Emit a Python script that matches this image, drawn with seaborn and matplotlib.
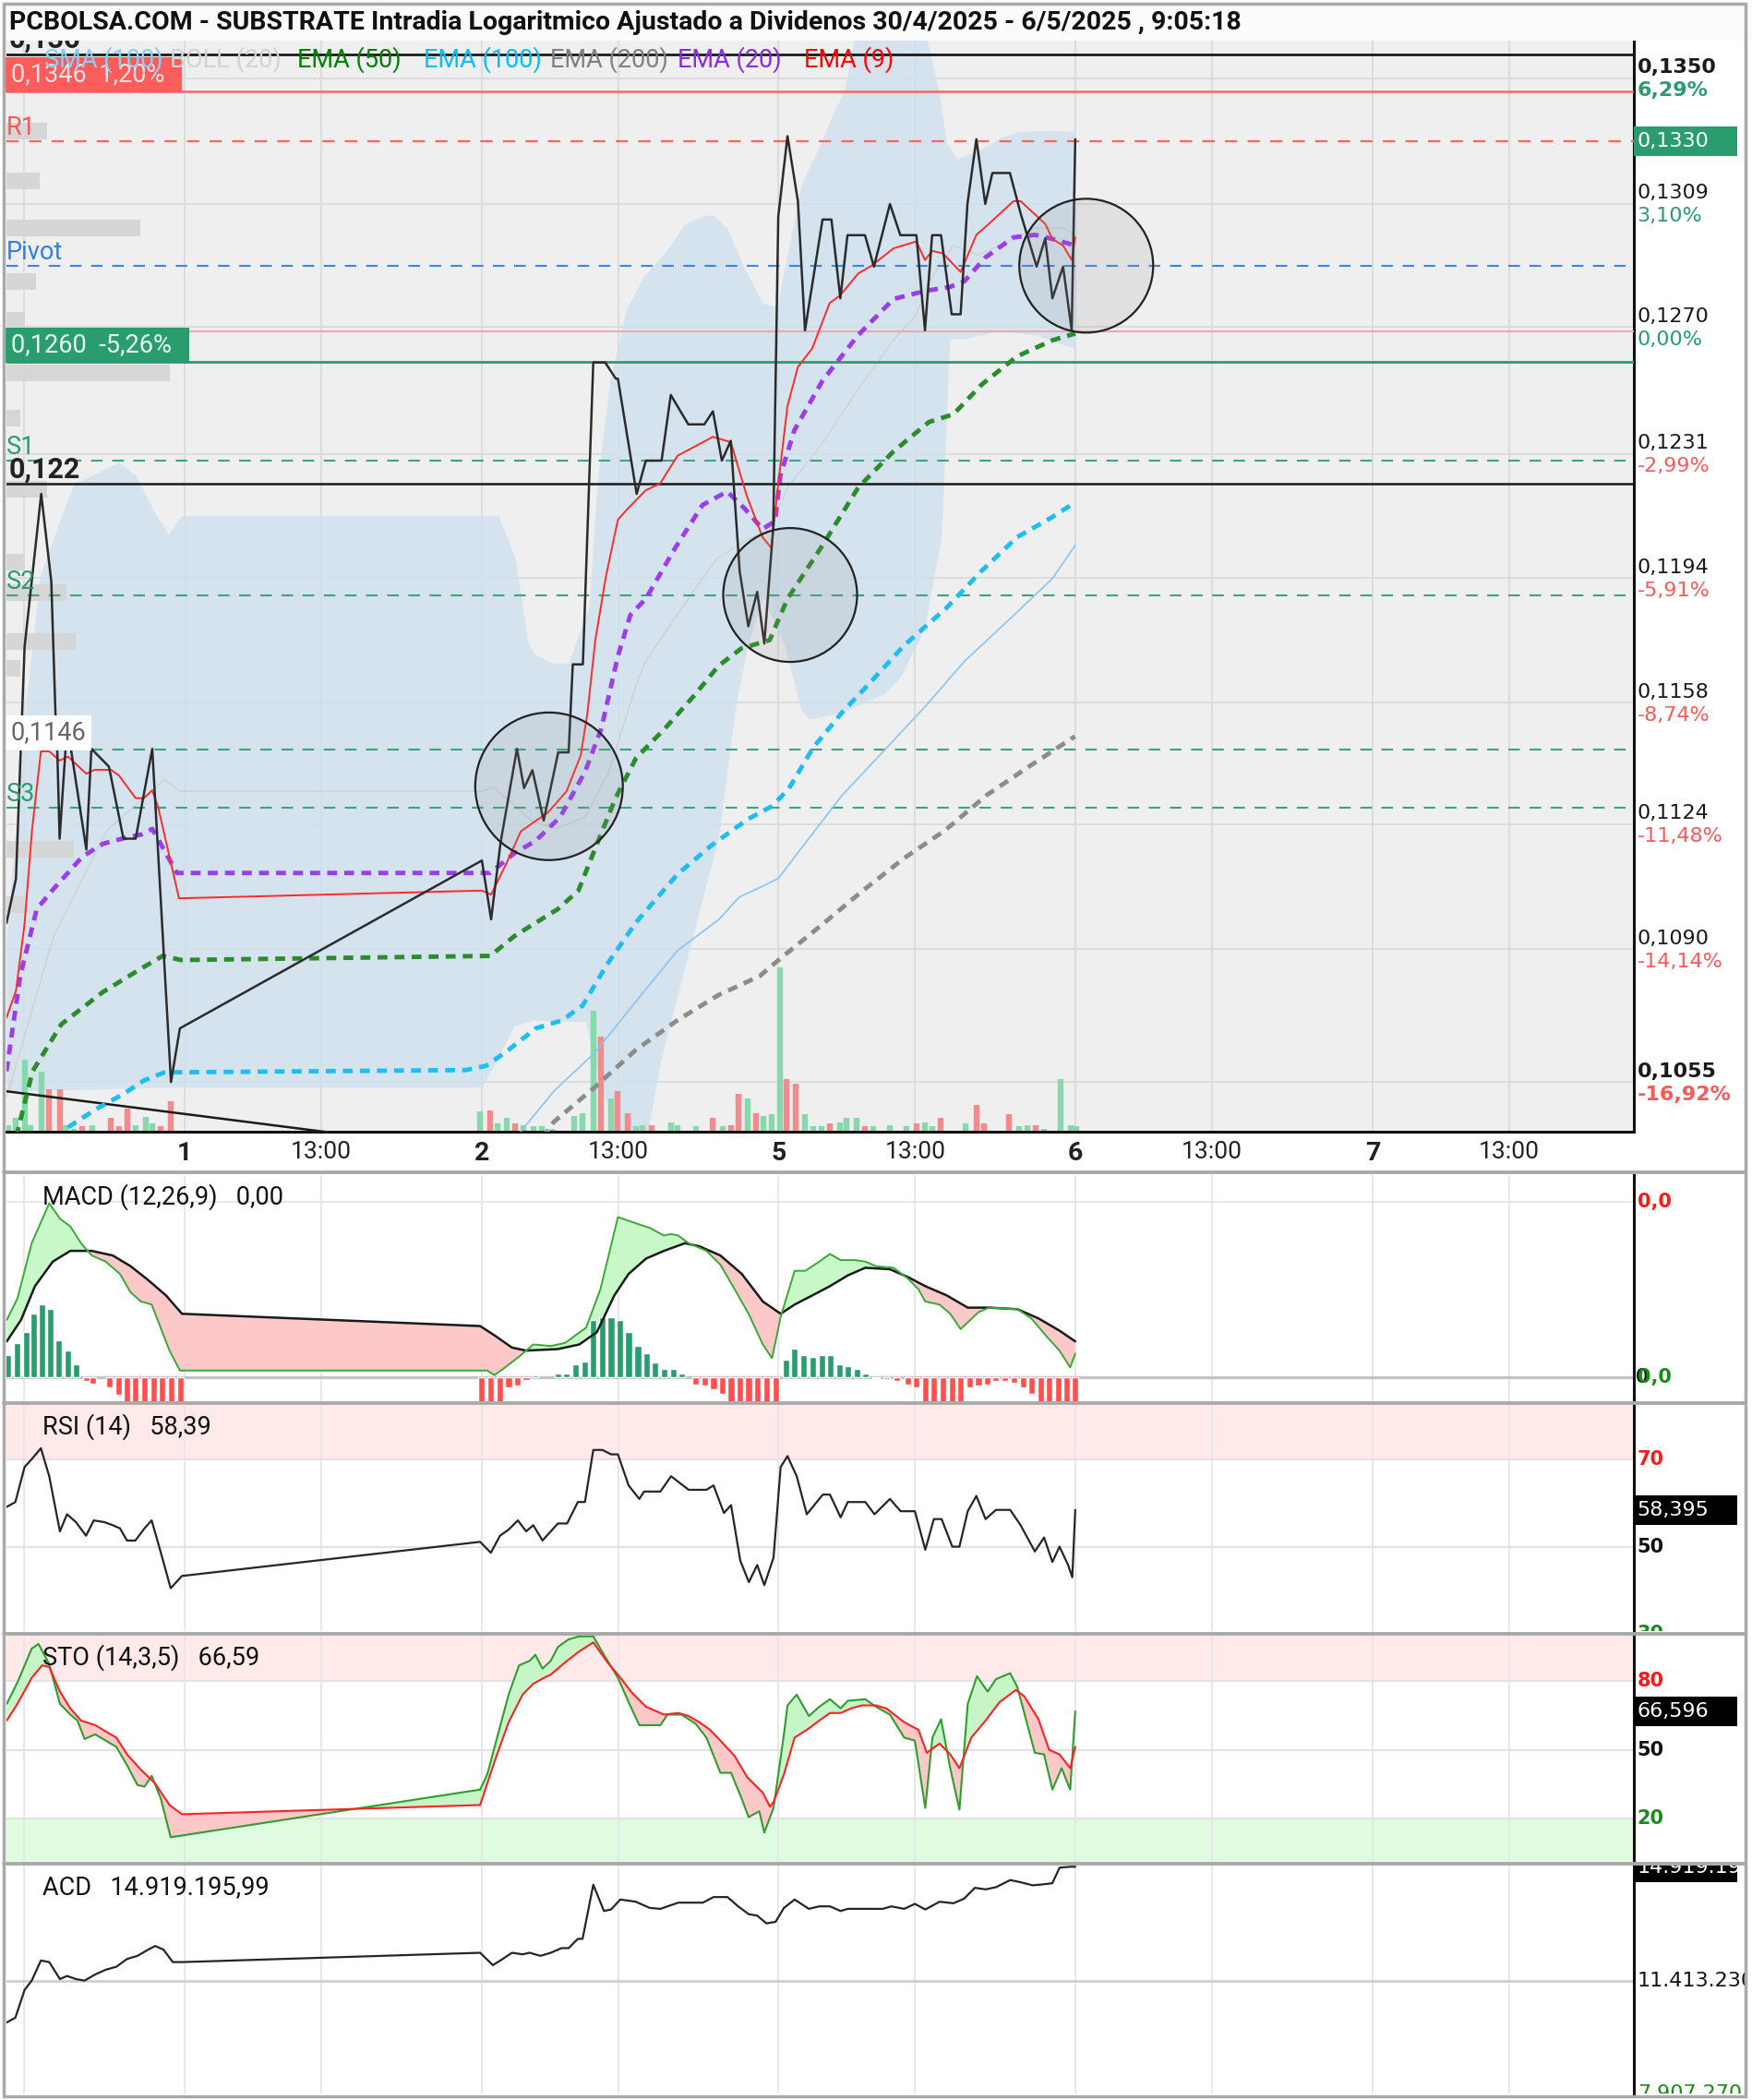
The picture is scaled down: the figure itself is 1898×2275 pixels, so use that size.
import numpy as np
import matplotlib
matplotlib.use("Agg")
import matplotlib.pyplot as plt
from matplotlib.collections import LineCollection
from matplotlib.lines import Line2D
from matplotlib.patches import Rectangle
from matplotlib.ticker import NullLocator
from matplotlib.transforms import offset_copy, blended_transform_factory
import seaborn as sns

# time axis: trading sessions (0 = 30/4, 1 = 1/5, 2 = 2/5, 3 = 5/5, 4 = 6/5, 5 = 7/5)
price_t = [0.400, 0.432, 0.461, 0.517, 0.551, 0.565, 0.571, 0.579, 0.599, 0.617, 0.669, 0.686, 0.745,
           0.794, 0.835, 0.891, 0.954, 0.984, 2.001, 2.032, 2.064, 2.119, 2.143, 2.171, 2.209, 2.258,
           2.293, 2.307, 2.341, 2.376, 2.416, 2.452, 2.459, 2.522, 2.553, 2.606, 2.637, 2.696, 2.750,
           2.779, 2.809, 2.839, 2.869, 2.898, 2.928, 2.952, 2.982, 2.999, 3.030, 3.065, 3.089, 3.148,
           3.178, 3.208, 3.232, 3.291, 3.321, 3.375, 3.410, 3.464, 3.493, 3.517, 3.547, 3.583, 3.613,
           3.636, 3.666, 3.696, 3.720, 3.779, 3.815, 3.869, 3.898, 3.922, 3.958, 3.987, 3.999]
price_v = [0.1097, 0.1109, 0.1174, 0.1219, 0.1193, 0.1155, 0.1145, 0.1120, 0.1145, 0.1145, 0.1117, 0.1145,
           0.1140, 0.1120, 0.1120, 0.1145, 0.1055, 0.1069, 0.1114, 0.1098, 0.1119, 0.1145, 0.1134, 0.1139,
           0.1125, 0.1144, 0.1144, 0.1169, 0.1169, 0.1259, 0.1259, 0.1254, 0.1254, 0.1219, 0.1229, 0.1229,
           0.1249, 0.1240, 0.1240, 0.1244, 0.1229, 0.1235, 0.1196, 0.1180, 0.1190, 0.1175, 0.1209, 0.1305,
           0.1331, 0.1310, 0.1269, 0.1304, 0.1304, 0.1279, 0.1299, 0.1299, 0.1289, 0.1309, 0.1299, 0.1299,
           0.1269, 0.1299, 0.1299, 0.1274, 0.1274, 0.1309, 0.1330, 0.1309, 0.1319, 0.1319, 0.1306, 0.1289,
           0.1298, 0.1279, 0.1289, 0.1269, 0.1330]

ema9_t = [0.400, 0.432, 0.461, 0.486, 0.516, 0.544, 0.579, 0.607, 0.669, 0.697, 0.752, 0.779, 0.835, 0.863,
          0.891, 0.912, 0.981, 2.001, 2.032, 2.085, 2.132, 2.182, 2.222, 2.286, 2.334, 2.356, 2.383, 2.418,
          2.459, 2.487, 2.553, 2.601, 2.660, 2.779, 2.839, 2.893, 2.946, 2.976, 2.999, 3.030, 3.065, 3.113,
          3.172, 3.208, 3.268, 3.315, 3.387, 3.464, 3.493, 3.517, 3.553, 3.613, 3.666, 3.708, 3.791, 3.815,
          3.898, 3.922, 3.958, 3.987, 3.999]
ema9_v = [0.10718, 0.10789, 0.10968, 0.11223, 0.11443, 0.11443, 0.11417, 0.11428, 0.11380, 0.11391, 0.11391,
          0.11375, 0.11312, 0.11312, 0.11334, 0.11283, 0.11037, 0.11058, 0.11047, 0.11135, 0.11220, 0.11249,
          0.11271, 0.11331, 0.11432, 0.11549, 0.11760, 0.11943, 0.12113, 0.12141, 0.12201, 0.12221, 0.12305,
          0.12362, 0.12346, 0.12184, 0.12061, 0.12029, 0.12221, 0.12456, 0.12576, 0.12633, 0.12775, 0.12800,
          0.12868, 0.12894, 0.12948, 0.12970, 0.12911, 0.12940, 0.12932, 0.12873, 0.12991, 0.13026, 0.13099,
          0.13099, 0.13026, 0.12978, 0.12957, 0.12911, 0.12983]

ema20_t = [0.400, 0.447, 0.502, 0.558, 0.655, 0.725, 0.794, 0.856, 0.891, 0.974, 2.029, 2.112, 2.182, 2.265,
           2.349, 2.403, 2.459, 2.501, 2.553, 2.649, 2.744, 2.827, 2.887, 2.946, 2.988, 3.006, 3.053, 3.148,
           3.268, 3.387, 3.493, 3.577, 3.625, 3.696, 3.791, 3.863, 3.922, 3.999]
ema20_v = [0.10578, 0.10831, 0.11008, 0.11062, 0.11150, 0.11186, 0.11201, 0.11212, 0.11227, 0.11106, 0.11106,
           0.11161, 0.11194, 0.11260, 0.11387, 0.11507, 0.11714, 0.11833, 0.11880, 0.12025, 0.12157, 0.12197,
           0.12145, 0.12085, 0.12109, 0.12245, 0.12382, 0.12534, 0.12675, 0.12788, 0.12813, 0.12826, 0.12843,
           0.12919, 0.12983, 0.12991, 0.12978, 0.12957]

ema50_t = [0.433, 0.488, 0.585, 0.725, 0.849, 0.926, 0.988, 2.029, 2.112, 2.257, 2.326, 2.382, 2.451, 2.520,
           2.617, 2.714, 2.798, 2.875, 2.970, 3.030, 3.148, 3.268, 3.387, 3.506, 3.589, 3.684, 3.803, 3.922,
           3.999]
ema50_v = [0.10409, 0.10578, 0.10701, 0.10786, 0.10846, 0.10882, 0.10871, 0.10882, 0.10936, 0.11008, 0.11058,
           0.11172, 0.11312, 0.11424, 0.11507, 0.11599, 0.11686, 0.11736, 0.11760, 0.11880, 0.12037, 0.12209,
           0.12318, 0.12407, 0.12431, 0.12522, 0.12609, 0.12659, 0.12680]

ema100_t = [0.607, 0.697, 0.794, 0.863, 0.932, 1.946, 2.015, 2.085, 2.182, 2.271, 2.340, 2.423, 2.520, 2.659,
            2.770, 2.895, 2.978, 3.034, 3.117, 3.214, 3.311, 3.422, 3.565, 3.684, 3.803, 3.922, 3.999]
ema100_v = [0.10433, 0.10478, 0.10519, 0.10554, 0.10575, 0.10581, 0.10592, 0.10630, 0.10690, 0.10711, 0.10750,
            0.10860, 0.10972, 0.11102, 0.11179, 0.11253, 0.11290, 0.11338, 0.11454, 0.11553, 0.11640, 0.11744,
            0.11853, 0.11962, 0.12061, 0.12121, 0.12165]

ema200_t = [2.205, 2.243, 2.382, 2.520, 2.659, 2.798, 2.936, 3.006, 3.145, 3.284, 3.422, 3.561, 3.700, 3.839, 3.998]
ema200_v = [0.10406, 0.10447, 0.10537, 0.10634, 0.10711, 0.10778, 0.10828, 0.10875, 0.10965, 0.11058, 0.11146,
            0.11223, 0.11320, 0.11398, 0.11485]

sma100_t = [2.114, 2.243, 2.382, 2.520, 2.659, 2.798, 2.867, 2.936, 2.999, 3.075, 3.214, 3.353, 3.492, 3.625,
            3.803, 3.922, 3.999]
sma100_v = [0.10406, 0.10526, 0.10627, 0.10761, 0.10896, 0.10979, 0.11040, 0.11066, 0.11091, 0.11172, 0.11320,
            0.11443, 0.11568, 0.11698, 0.11841, 0.11939, 0.12037]

boll_up_t = [0.400, 0.468, 0.513, 0.585, 0.628, 0.779, 0.835, 0.905, 0.946, 0.988, 2.057, 2.112, 2.155, 2.175,
             2.237, 2.292, 2.362, 2.389, 2.432, 2.487, 2.543, 2.625, 2.684, 2.744, 2.779, 2.827, 2.887, 2.946,
             2.994, 3.077, 3.137, 3.184, 3.219, 3.264, 3.490, 3.541, 3.565, 3.601, 3.672, 3.744, 3.803, 3.922,
             3.999]
boll_up_v = [0.10932, 0.11599, 0.11947, 0.12125, 0.12221, 0.12285, 0.12245, 0.12125, 0.12069, 0.12125, 0.12125,
             0.12001, 0.11760, 0.11721, 0.11694, 0.11694, 0.11857, 0.12221, 0.12534, 0.12754, 0.12856, 0.12944,
             0.13026, 0.13051, 0.13056, 0.13013, 0.12881, 0.12775, 0.12762, 0.13155, 0.13276, 0.13386, 0.13452,
             0.13670, 0.13670, 0.13452, 0.13290, 0.13237, 0.13263, 0.13303, 0.13325, 0.13329, 0.13325]
boll_lo_t = [0.400, 0.988, 2.001, 2.055, 2.110, 2.173, 2.349, 2.390, 2.452, 2.547, 2.604, 2.701, 2.798, 2.854,
             2.895, 2.949, 2.994, 3.021, 3.075, 3.102, 3.215, 3.355, 3.409, 3.490, 3.549, 3.576, 3.625, 3.743,
             3.864, 3.999]
boll_lo_v = [0.10526, 0.10537, 0.10537, 0.10613, 0.10697, 0.10711, 0.10708, 0.10578, 0.10406, 0.10372, 0.10610,
             0.10903, 0.11205, 0.11561, 0.11744, 0.11888, 0.11791, 0.11744, 0.11561, 0.11534, 0.11553, 0.11606,
             0.11652, 0.11791, 0.12065, 0.12663, 0.12663, 0.12688, 0.12675, 0.12633]
boll_mid_t = [0.400, 0.558, 0.738, 0.932, 0.986, 2.001, 2.042, 2.168, 2.249, 2.349, 2.430, 2.516, 2.552, 2.674,
              2.791, 2.885, 2.971, 3.030, 3.147, 3.269, 3.386, 3.463, 3.506, 3.589, 3.670, 3.743, 3.864, 3.959,
              3.999]
boll_mid_v = [0.10509, 0.10932, 0.11223, 0.11364, 0.11331, 0.11331, 0.11342, 0.11249, 0.11227, 0.11260, 0.11387,
              0.11621, 0.11698, 0.11853, 0.11997, 0.12049, 0.12085, 0.12209, 0.12342, 0.12509, 0.12659, 0.12738,
              0.12843, 0.12957, 0.12927, 0.12957, 0.13013, 0.13013, 0.12991]

# volume (relative units) and direction g/r
vol_t = [0.405, 0.432, 0.461, 0.481, 0.517, 0.544, 0.579, 0.599, 0.626, 0.655, 0.689, 0.752, 0.779, 0.806,
         0.835, 0.869, 0.892, 0.919, 0.954, 0.987,
         1.994, 2.028, 2.055, 2.085, 2.112, 2.141, 2.175, 2.203, 2.236, 2.313, 2.340, 2.376, 2.403, 2.437,
         2.457, 2.493, 2.520, 2.541, 2.574, 2.637, 2.660, 2.722, 2.777, 2.812, 2.840, 2.864, 2.895, 2.923,
         2.950, 2.978,
         3.006, 3.027, 3.059, 3.089, 3.117, 3.145, 3.172, 3.208, 3.228, 3.263, 3.291, 3.318, 3.374, 3.430,
         3.464, 3.492, 3.517, 3.547, 3.630, 3.666, 3.693, 3.777, 3.810, 3.839, 3.867, 3.895, 3.950, 3.985, 4.003]
vol_h = [5, 10, 54, 5, 45, 32, 32, 5, 2, 4, 5, 10, 4, 17, 5, 11, 6, 4, 23, 1,
         15, 16, 6, 10, 6, 5, 4, 4, 2, 12, 14, 90, 71, 25, 30, 14, 4, 5, 5, 7, 5, 4, 10, 4, 5, 28, 25, 14, 12, 13,
         123, 39, 36, 13, 4, 4, 6, 7, 10, 10, 4, 4, 5, 4, 6, 7, 4, 10, 6, 20, 6, 13, 4, 5, 5, 2, 39, 5, 4]
vol_dir = ("gggggrrggrgrrrgggrrg"
           "grggrgggggggrgrrggrgggrgrrgrg"
           "ggrrgggrgggrgggrggrgrrrggrg")

# volume profile at price
prof_p = [0.13325, 0.13163, 0.13013, 0.12843, 0.12721, 0.12642, 0.12559, 0.12419, 0.12205, 0.11986, 0.11899,
          0.11756, 0.11678, 0.11172, 0.11019]
prof_w = [30, 25, 100, 22, 14, 130, 122, 10, 30, 14, 45, 52, 10, 50, 14]

# drawn levels
lvl_top = 0.13581
lvl_red = 0.13457
lvl_r1 = 0.13294
lvl_pivot = 0.12893
lvl_ref = 0.12686
lvl_green = 0.12592
lvl_s1 = 0.12290
lvl_black = 0.12221
lvl_s2 = 0.11891
lvl_1146 = 0.11448
lvl_s3 = 0.11286
trend_t = [0.40, 1.80]
trend_v = [0.10526, 0.10390]
circ_t = [2.227, 3.039, 4.036]
circ_p = [0.11345, 0.11891, 0.12893]
circ_s = [13250, 10900, 10900]

price_ticks = [0.1350, 0.1309, 0.1270, 0.1231, 0.1194, 0.1158, 0.1124, 0.1090, 0.1055]
price_lbl = ["0,1350", "0,1309", "0,1270", "0,1231", "0,1194", "0,1158", "0,1124", "0,1090", "0,1055"]
pct_lbl = ["6,29%", "3,10%", "0,00%", "-2,99%", "-5,91%", "-8,74%", "-11,48%", "-14,14%", "-16,92%"]
last_price = 0.13294

GRID_T = [0.46, 1, 1.46, 2, 2.46, 3, 3.46, 4, 4.46, 5, 5.46]
day_ticks = [1, 1.46, 2, 2.46, 3, 3.46, 4, 4.46, 5, 5.46]
day_lbl = ["1", "13:00", "2", "13:00", "5", "13:00", "6", "13:00", "7", "13:00"]

# MACD
macd_t = [0.401, 0.437, 0.485, 0.544, 0.580, 0.615, 0.651, 0.687, 0.734, 0.782, 0.818, 0.853, 0.889, 0.949,
          0.984, 2.019, 2.043, 2.079, 2.126, 2.174, 2.233, 2.281, 2.352, 2.400, 2.459, 2.519, 2.566, 2.614,
          2.638, 2.662, 2.697, 2.757, 2.804, 2.852, 2.899, 2.947, 2.978, 3.007, 3.054, 3.090, 3.137, 3.173,
          3.209, 3.256, 3.292, 3.328, 3.387, 3.435, 3.471, 3.494, 3.542, 3.578, 3.613, 3.673, 3.709, 3.804,
          3.851, 3.899, 3.946, 3.982, 3.999]
macd_v = [1.88, 2.58, 4.38, 5.68, 5.18, 4.93, 4.38, 3.98, 3.78, 3.38, 2.78, 2.48, 2.38, 0.88, 0.23, 0.23, 0.08,
          0.33, 0.68, 1.08, 1.03, 1.13, 1.63, 2.88, 5.23, 5.03, 4.88, 4.63, 4.68, 4.63, 4.38, 4.13, 3.68, 2.88,
          2.08, 1.08, 0.63, 1.98, 3.48, 3.48, 3.78, 4.03, 3.83, 3.83, 3.78, 3.63, 3.58, 3.23, 2.88, 2.48, 2.38,
          2.08, 1.58, 2.13, 2.28, 2.23, 1.93, 1.38, 0.88, 0.33, 0.78]
sig_t = [0.401, 0.449, 0.496, 0.556, 0.615, 0.687, 0.758, 0.818, 0.877, 0.937, 0.991, 1.995, 2.043, 2.102,
         2.150, 2.257, 2.329, 2.388, 2.447, 2.495, 2.554, 2.614, 2.685, 2.733, 2.804, 2.876, 2.947, 3.007,
         3.054, 3.114, 3.173, 3.233, 3.292, 3.375, 3.435, 3.494, 3.566, 3.637, 3.709, 3.804, 3.875, 3.946, 3.999]
sig_v = [1.18, 1.88, 2.98, 3.78, 4.13, 4.13, 3.98, 3.63, 3.18, 2.68, 2.08, 1.68, 1.38, 0.98, 0.88, 0.93, 1.08,
         1.48, 2.68, 3.38, 3.88, 4.13, 4.38, 4.28, 3.98, 3.38, 2.48, 2.08, 2.38, 2.68, 2.98, 3.33, 3.58, 3.53,
         3.28, 2.98, 2.68, 2.28, 2.28, 2.23, 1.93, 1.53, 1.18]
hist_t = [0.406, 0.437, 0.468, 0.492, 0.520, 0.549, 0.577, 0.606, 0.634, 0.668, 0.692, 0.746, 0.777, 0.806,
          0.834, 0.865, 0.896, 0.925, 0.956, 0.987,
          2.000, 2.031, 2.062, 2.091, 2.121, 2.150, 2.179, 2.257, 2.286, 2.317, 2.348, 2.376, 2.405, 2.436,
          2.466, 2.495, 2.526, 2.557, 2.585, 2.614, 2.645, 2.673, 2.721, 2.752, 2.781, 2.811, 2.840, 2.871,
          2.899, 2.930, 2.959, 2.990,
          3.026, 3.054, 3.085, 3.114, 3.145, 3.173, 3.204, 3.233, 3.263, 3.292, 3.328, 3.363, 3.399, 3.435,
          3.463, 3.494, 3.523, 3.554, 3.585, 3.613, 3.644, 3.673, 3.704, 3.732, 3.761, 3.792, 3.823, 3.851,
          3.882, 3.911, 3.942, 3.970, 3.999]
hist_v = [0.73, 1.13, 1.48, 2.08, 2.38, 2.23, 1.23, 0.88, 0.43, -0.12, -0.20, -0.32, -0.57, -0.9, -0.9, -0.9,
          -0.9, -0.9, -0.9, -0.9,
          -0.9, -0.9, -0.9, -0.32, -0.27, -0.07, 0.08, 0.13, 0.13, 0.43, 0.53, 1.88, 1.98, 1.98, 1.88, 1.48,
          1.03, 0.78, 0.48, 0.28, 0.28, 0.13, -0.22, -0.27, -0.37, -0.52, -0.9, -0.9, -0.9, -0.9, -0.9, -0.9,
          0.58, 0.93, 0.73, 0.68, 0.73, 0.73, 0.43, 0.38, 0.28, 0.13, -0.02, -0.04, -0.12, -0.22, -0.32, -0.9,
          -0.9, -0.9, -0.9, -0.9, -0.32, -0.27, -0.22, -0.12, -0.12, -0.17, -0.32, -0.52, -0.9, -0.9, -0.9,
          -0.9, -0.9]

# RSI
rsi_t = [0.401, 0.430, 0.461, 0.485, 0.516, 0.544, 0.580, 0.604, 0.634, 0.668, 0.694, 0.730, 0.758, 0.782,
         0.806, 0.834, 0.865, 0.889, 0.920, 0.953, 0.991, 1.995, 2.031, 2.062, 2.091, 2.122, 2.150, 2.174,
         2.205, 2.257, 2.288, 2.324, 2.348, 2.376, 2.407, 2.436, 2.459, 2.495, 2.531, 2.547, 2.602, 2.638,
         2.697, 2.757, 2.781, 2.816, 2.840, 2.871, 2.900, 2.928, 2.952, 2.983, 3.007, 3.030, 3.061, 3.095,
         3.149, 3.173, 3.209, 3.233, 3.292, 3.323, 3.375, 3.411, 3.459, 3.494, 3.523, 3.549, 3.585, 3.609,
         3.637, 3.666, 3.697, 3.732, 3.780, 3.815, 3.863, 3.894, 3.922, 3.946, 3.975, 3.989, 3.999]
rsi_v = [59.1, 60.2, 68.2, 70.0, 72.5, 66.1, 53.5, 57.4, 55.6, 52.5, 56.0, 55.6, 54.9, 54.2, 51.4, 51.4, 54.2,
         56.0, 48.6, 40.5, 43.3, 51.1, 48.6, 52.5, 53.9, 56.0, 53.5, 54.9, 51.4, 55.3, 55.3, 60.2, 60.2, 72.1,
         72.1, 71.1, 71.1, 64.0, 60.9, 62.6, 62.6, 66.1, 63.0, 63.0, 64.0, 57.7, 59.5, 46.8, 41.9, 45.8, 41.2,
         47.5, 68.2, 70.7, 66.1, 57.4, 61.9, 61.9, 56.7, 60.2, 60.2, 57.4, 60.9, 58.1, 58.1, 49.3, 56.3, 56.3,
         50.0, 50.0, 58.1, 61.6, 56.3, 58.4, 58.4, 54.9, 48.9, 52.1, 46.5, 50.0, 45.8, 43.0, 58.4]

# Stochastic %K and %D
k_t = [0.401, 0.437, 0.485, 0.508, 0.544, 0.580, 0.615, 0.639, 0.663, 0.699, 0.734, 0.770, 0.806, 0.841,
       0.865, 0.889, 0.920, 0.953, 1.995, 2.019, 2.055, 2.091, 2.126, 2.162, 2.181, 2.205, 2.233, 2.257,
       2.293, 2.328, 2.376, 2.412, 2.459, 2.495, 2.531, 2.602, 2.626, 2.673, 2.721, 2.757, 2.804, 2.840,
       2.876, 2.899, 2.935, 2.952, 2.983, 3.018, 3.030, 3.061, 3.102, 3.137, 3.173, 3.209, 3.233, 3.292,
       3.328, 3.375, 3.423, 3.459, 3.494, 3.518, 3.547, 3.578, 3.609, 3.637, 3.668, 3.704, 3.732, 3.780,
       3.804, 3.863, 3.894, 3.922, 3.953, 3.982, 3.999]
k_v = [70.0, 79.3, 94.0, 96.0, 87.3, 70.0, 65.3, 62.7, 54.7, 56.7, 54.0, 51.3, 43.3, 34.7, 34.0, 38.7, 28.7,
       12.0, 32.7, 39.3, 56.7, 74.0, 86.7, 88.7, 91.3, 85.3, 88.7, 94.7, 98.0, 99.3, 99.3, 91.3, 81.3, 70.7,
       60.7, 60.7, 65.3, 65.3, 61.3, 55.3, 40.0, 40.0, 28.7, 20.7, 23.3, 14.0, 24.7, 56.7, 69.3, 74.0, 64.7,
       68.7, 72.0, 68.0, 71.3, 72.0, 68.7, 65.3, 55.3, 54.0, 24.7, 55.3, 63.3, 42.0, 24.0, 70.0, 82.0, 75.3,
       80.7, 83.3, 77.3, 48.7, 48.0, 32.7, 42.0, 32.7, 66.7]
d_t = [0.401, 0.437, 0.485, 0.520, 0.544, 0.580, 0.615, 0.651, 0.699, 0.734, 0.770, 0.806, 0.853, 0.901,
       0.949, 0.991, 1.995, 2.043, 2.091, 2.138, 2.174, 2.210, 2.233, 2.281, 2.328, 2.376, 2.424, 2.471,
       2.507, 2.554, 2.614, 2.662, 2.697, 2.733, 2.769, 2.804, 2.852, 2.895, 2.947, 2.971, 2.983, 3.018,
       3.054, 3.102, 3.137, 3.173, 3.209, 3.244, 3.280, 3.328, 3.363, 3.423, 3.471, 3.499, 3.542, 3.578,
       3.609, 3.649, 3.697, 3.744, 3.799, 3.827, 3.875, 3.911, 3.946, 3.982, 3.999]
d_v = [62.7, 70.0, 81.3, 86.7, 86.0, 75.3, 68.0, 62.7, 60.7, 58.0, 55.3, 48.0, 41.3, 35.3, 26.0, 22.0, 26.0,
       44.7, 62.0, 74.0, 78.7, 81.3, 82.7, 88.0, 92.7, 96.7, 88.0, 80.7, 74.7, 68.7, 65.3, 66.0, 64.7, 62.0,
       58.7, 54.0, 47.3, 38.0, 31.3, 25.3, 27.3, 39.3, 55.3, 59.3, 62.7, 66.0, 66.0, 68.0, 69.3, 69.3, 68.0,
       62.0, 58.7, 48.7, 52.7, 48.0, 42.0, 55.3, 62.7, 70.7, 76.0, 73.3, 63.3, 50.0, 48.0, 42.0, 51.3]

# ACD (millions)
acd_t = [0.401, 0.430, 0.461, 0.485, 0.516, 0.544, 0.580, 0.604, 0.634, 0.663, 0.699, 0.734, 0.770, 0.806,
         0.841, 0.877, 0.901, 0.929, 0.960, 0.996, 1.995, 2.038, 2.071, 2.102, 2.138, 2.162, 2.198, 2.233,
         2.269, 2.293, 2.324, 2.340, 2.376, 2.412, 2.436, 2.467, 2.519, 2.566, 2.602, 2.662, 2.745, 2.781,
         2.828, 2.864, 2.899, 2.928, 2.959, 2.990, 3.018, 3.054, 3.102, 3.137, 3.173, 3.209, 3.233, 3.351,
         3.380, 3.423, 3.459, 3.494, 3.542, 3.589, 3.625, 3.661, 3.697, 3.732, 3.780, 3.815, 3.856, 3.899,
         3.922, 3.946, 3.982, 3.999]
acd_v = [10.119, 10.263, 11.125, 11.413, 12.036, 11.988, 11.461, 11.557, 11.461, 11.413, 11.605, 11.749,
         11.844, 12.084, 12.180, 12.372, 12.487, 12.372, 11.988, 11.988, 12.276, 11.892, 12.084, 12.276,
         12.228, 12.276, 12.180, 12.276, 12.420, 12.420, 12.707, 12.707, 14.385, 13.570, 13.618, 13.925,
         13.858, 13.666, 13.637, 13.829, 13.829, 14.002, 14.002, 13.714, 13.474, 13.426, 13.187, 13.235,
         13.666, 13.925, 13.637, 13.714, 13.714, 13.570, 13.637, 13.637, 13.714, 13.637, 13.791, 13.618,
         13.858, 13.810, 13.954, 14.289, 14.241, 14.308, 14.529, 14.462, 14.366, 14.404, 14.433, 14.912,
         14.941, 14.941]

TITLE = ("PCBOLSA.COM - SUBSTRATE Intradia Logaritmico Ajustado a Dividenos "
         "30/4/2025 - 6/5/2025 , 9:05:18")
legend_items = [("SMA (100)", "#87cefa"), ("BOLL (20)", "#d3d3d3"), ("EMA (50)", "#008000"),
                ("EMA (100)", "#00bfff"), ("EMA (200)", "#808080"), ("EMA (20)", "#8a2be2"),
                ("EMA (9)", "#ff0000")]
legend_x = [48, 184, 322, 459, 596, 734, 871]

# ---------------- style / layout ----------------
sns.set_style("white")
plt.rcParams["font.family"] = ["Roboto", "DejaVu Sans"]
plt.rcParams["axes.unicode_minus"] = False
WIDE = ["DejaVu Sans"]
GREEN = "#2a9d6f"
RED = "#ff5a5a"
LBL = 19.5

W, H = 1898, 2275
XL, XR, XE = 7, 1770, 1892
T0, T1 = 0.40, 5.88

fig = plt.figure(figsize=(W / 100, H / 100), dpi=100, facecolor="white")


def place(top, bot, x0=XL, x1=XR):
    return [x0 / W, 1 - bot / H, (x1 - x0) / W, (bot - top) / H]


def shift(trans, dx=0, dy=0):
    return offset_copy(trans, fig=fig, x=dx, y=dy, units="points")


def draw_line(a, t, v, **kw):
    sns.lineplot(x=t, y=v, ax=a, legend=False, **kw)


def value_box(r, val, text, fc, tc="white", log=False):
    y0, y1 = r.get_ylim()
    frac = 16 / r.bbox.height
    if log:
        lo, hi = val * (y1 / y0) ** -frac, val * (y1 / y0) ** frac
    else:
        lo, hi = val - frac * (y1 - y0), val + frac * (y1 - y0)
    r.add_patch(Rectangle((0, lo), 0.92, hi - lo,
                          transform=blended_transform_factory(r.transAxes, r.transData),
                          fc=fc, ec="none", clip_on=True, zorder=3))
    r.text(0.03, val, text, transform=r.get_yaxis_transform(), va="center", ha="left",
           color=tc, fontsize=16, family=WIDE, clip_on=True, zorder=4)


def scale_label(r, val, text, color, bold=True, size=15, dx=0.03):
    r.text(dx, val, text, transform=r.get_yaxis_transform(), va="center", ha="left",
           color=color, fontsize=size, fontweight="bold" if bold else "normal",
           family=WIDE, clip_on=True)


# ---------------- main price panel ----------------
ax = fig.add_axes(place(44, 1226), facecolor="#efefef")
ax.set_yscale("log")
ax.set_xlim(T0, T1)
ax.set_ylim(0.10422, 0.13626)
ax.set_axisbelow(True)
ax.set_yticks(price_ticks)
ax.yaxis.set_minor_locator(NullLocator())
ax.tick_params(axis="y", which="both", left=False, labelleft=False)
ax.grid(axis="y", color="#dadada", lw=1.3)
for g in GRID_T:
    ax.axvline(g, color="#dadada", lw=1.3, zorder=0.5)
ax.set_xticks(day_ticks, day_lbl)
ax.tick_params(axis="x", length=0, pad=7, labelsize=19, colors="#222222")
for lab in ax.get_xticklabels():
    if lab.get_text() != "13:00":
        lab.set_fontweight("bold")
        lab.set_fontsize(20.5)
for s in ("top", "left"):
    ax.spines[s].set_visible(False)
for s in ("right", "bottom"):
    ax.spines[s].set_color("#111111")
    ax.spines[s].set_linewidth(2.2)

# bollinger band
bg = np.union1d(boll_up_t, boll_lo_t)
ax.fill_between(bg, np.interp(bg, boll_lo_t, boll_lo_v), np.interp(bg, boll_up_t, boll_up_v),
                color="#cfe1ee", alpha=0.8, lw=0, zorder=1)
draw_line(ax, boll_mid_t, boll_mid_v, color="#cdc4bc", linewidth=1.0, alpha=0.6, zorder=1.5)

# volume bars and volume profile
vsegs = [[(t, 0), (t, h / 815)] for t, h in zip(vol_t, vol_h)]
vcols = ["#86d9ac" if c == "g" else "#f28c8c" for c in vol_dir]
ax.add_collection(LineCollection(vsegs, colors=vcols, linewidths=4.6,
                                 transform=ax.get_xaxis_transform(), zorder=2), autolim=False)
psegs = [[(0, p), (w / 1215, p)] for p, w in zip(prof_p, prof_w)]
ax.add_collection(LineCollection(psegs, colors="#d6d6d6", linewidths=13,
                                 transform=ax.get_yaxis_transform(), zorder=2), autolim=False)

# horizontal levels
ax.axhline(lvl_top, color="#1a1a1a", lw=2, zorder=3)
ax.axhline(lvl_red, color="#ff6464", lw=1.8, zorder=3)
ax.axhline(lvl_r1, color="#ff6464", lw=1.6, ls=(0, (6, 5)), zorder=3)
ax.axhline(lvl_pivot, color="#3d85e0", lw=1.5, ls=(0, (6, 5)), zorder=3)
ax.axhline(lvl_ref, color="#f2a6a6", lw=1.4, zorder=3)
ax.axhline(lvl_green, color=GREEN, lw=2, zorder=3)
ax.axhline(lvl_s1, color="#3aa57a", lw=1.5, ls=(0, (6, 5)), zorder=3)
ax.axhline(lvl_black, color="#1a1a1a", lw=1.8, zorder=3)
ax.axhline(lvl_s2, color="#3aa57a", lw=1.5, ls=(0, (6, 5)), zorder=3)
ax.axhline(lvl_1146, color="#3aa57a", lw=1.5, ls=(0, (6, 5)), zorder=3)
ax.axhline(lvl_s3, color="#3aa57a", lw=1.5, ls=(0, (6, 5)), zorder=3)
draw_line(ax, trend_t, trend_v, color="#1a1a1a", linewidth=1.8, zorder=3)

# moving averages
dash = (0, (2.2, 1.6))
draw_line(ax, sma100_t, sma100_v, color="#8cc4f0", linewidth=1.2, zorder=4)
draw_line(ax, ema200_t, ema200_v, color="#8c8c8c", linewidth=3.5, linestyle=dash, zorder=4)
draw_line(ax, ema100_t, ema100_v, color="#1ebdf2", linewidth=3.5, linestyle=dash, zorder=4)
draw_line(ax, ema50_t, ema50_v, color="#2a8c2a", linewidth=3.5, linestyle=dash, zorder=4)
draw_line(ax, ema20_t, ema20_v, color="#9a3cf0", linewidth=3.5, linestyle=dash, zorder=4)
draw_line(ax, ema9_t, ema9_v, color="#ff2a2a", linewidth=1.4, zorder=4.5)
draw_line(ax, price_t, price_v, color="#2b2b2b", linewidth=1.8, zorder=5)

ax.scatter(circ_t, circ_p, s=circ_s, facecolors=(0.55, 0.55, 0.55, 0.15),
           edgecolors="#222222", linewidths=1.6, zorder=6)

# level tags
ylab = ax.get_yaxis_transform()
ax.text(0, lvl_top, "0,136", transform=shift(ylab, 2, 0.5), va="bottom", fontsize=22,
        fontweight="bold", color="#222222", clip_on=True, zorder=8)
ax.text(0, lvl_black, "0,122", transform=shift(ylab, 2, 0.5), va="bottom", fontsize=22,
        fontweight="bold", color="#222222", zorder=8)
for txt, lvl, col in [("R1", lvl_r1, "#ff5555"), ("Pivot", lvl_pivot, "#2f7fe0"), ("S1", lvl_s1, GREEN),
                      ("S2", lvl_s2, GREEN), ("S3", lvl_s3, GREEN)]:
    ax.text(0, lvl, txt, transform=shift(ylab, 0, 0.5), va="bottom", fontsize=LBL, color=col, zorder=8)
ax.text(0, lvl_red, "0,1346  1,20%  ", transform=shift(ylab, 3.5, 3.5), va="bottom", fontsize=LBL,
        color="#ffe0e0", zorder=7, bbox=dict(boxstyle="square,pad=0.2", fc="#ff5c5c", ec="none"))
ax.text(0, lvl_green, "0,1260  -5,26%  ", transform=shift(ylab, 3.5, 3.5), va="bottom", fontsize=LBL,
        color="#eafff5", zorder=7, bbox=dict(boxstyle="square,pad=0.2", fc=GREEN, ec="none"))
ax.text(0, lvl_1146, "0,1146", transform=shift(ylab, 3.5, 3.5), va="bottom", fontsize=LBL,
        color="#666666", zorder=7, bbox=dict(boxstyle="square,pad=0.2", fc="white", ec="none"))

# right price scale
axr = fig.add_axes(place(44, 1226, XR, XE), sharey=ax)
axr.set_axis_off()
axr.set_xlim(0, 1)
for i, (tk, pl, pc) in enumerate(zip(price_ticks, price_lbl, pct_lbl)):
    bold = i in (0, len(price_ticks) - 1)
    axr.text(0.03, tk, pl, transform=shift(axr.get_yaxis_transform(), 0, 8.3), va="center",
             fontsize=16, family=WIDE, color="#1a1a1a", fontweight="bold" if bold else "normal")
    axr.text(0.03, tk, pc, transform=shift(axr.get_yaxis_transform(), 0, -9.6), va="center",
             fontsize=16, family=WIDE, color=RED if pc.startswith("-") else GREEN,
             fontweight="bold" if bold else "normal")
value_box(axr, last_price, "0,1330", GREEN, log=True)


# ---------------- indicator panels ----------------
def panel(top, bot, ylim):
    a = fig.add_axes(place(top, bot), facecolor="white")
    a.set_xlim(T0, T1)
    a.set_ylim(*ylim)
    a.set_xticks([])
    a.set_yticks([])
    for g in GRID_T:
        a.axvline(g, color="#e6e6e6", lw=1.3, zorder=0.5)
    for s in ("top", "bottom", "left"):
        a.spines[s].set_visible(False)
    a.spines["right"].set_color("#111111")
    a.spines["right"].set_linewidth(2.2)
    r = fig.add_axes(place(top, bot, XR, XE), sharey=a)
    r.set_axis_off()
    r.set_xlim(0, 1)
    return a, r


def fill_cross(a, t1, v1, t2, v2, up, down):
    g = np.union1d(t1, t2)
    y1, y2 = np.interp(g, t1, v1), np.interp(g, t2, v2)
    a.fill_between(g, y1, y2, where=y1 >= y2, interpolate=True, color=up, lw=0, zorder=1)
    a.fill_between(g, y1, y2, where=y1 < y2, interpolate=True, color=down, lw=0, zorder=1)


# MACD
am, rm = panel(1273, 1518, (-0.77, 6.60))
am.axhline(5.74, color="#e6e6e6", lw=1.3, zorder=0.5)
am.axhline(0, color="#c4c4c4", lw=2.4, zorder=0.6)
am.bar(hist_t, hist_v, width=0.022, color=["#2a9d6f" if v > 0 else "#ff5050" for v in hist_v], zorder=2)
fill_cross(am, macd_t, macd_v, sig_t, sig_v, "#c8f7c8", "#fcc8c8")
draw_line(am, sig_t, sig_v, color="#1a1a1a", linewidth=1.8, zorder=3)
draw_line(am, macd_t, macd_v, color="#3aa83a", linewidth=1.4, zorder=3)
am.text(0.022, 0.905, "MACD (12,26,9)   0,00", transform=am.transAxes, va="center", fontsize=LBL,
        color="#111111")
scale_label(rm, 5.74, "0,0", "#ff1a1a")
scale_label(rm, 0, "0", "#111111", dx=0.02)
scale_label(rm, 0, "0,0", "#1a8c1a")

# RSI
ar, rr = panel(1522, 1767, (30.7, 82.4))
ar.axhspan(70, 100, color="#ffe9e9", lw=0, zorder=0.3)
for lv in (70, 50):
    ar.axhline(lv, color="#e2e2e2", lw=1.4, zorder=0.6)
draw_line(ar, rsi_t, rsi_v, color="#262626", linewidth=1.6, zorder=3)
ar.text(0.022, 0.905, "RSI (14)   58,39", transform=ar.transAxes, va="center", fontsize=LBL,
        color="#111111")
scale_label(rr, 70, "70", "#ff1a1a")
scale_label(rr, 50, "50", "#111111")
scale_label(rr, 30, "30", "#1a8c1a")
value_box(rr, rsi_v[-1], "58,395", "#000000")

# Stochastic
ast, rs = panel(1772, 2017, (1.3, 99.6))
ast.axhspan(80, 100, color="#ffe9e9", lw=0, zorder=0.3)
ast.axhspan(0, 20, color="#e0fce0", lw=0, zorder=0.3)
for lv in (80, 50, 20):
    ast.axhline(lv, color="#e2e2e2", lw=1.4, zorder=0.6)
fill_cross(ast, k_t, k_v, d_t, d_v, "#c8f5c8", "#fcc8c8")
draw_line(ast, k_t, k_v, color="#2e9e2e", linewidth=1.5, zorder=3)
draw_line(ast, d_t, d_v, color="#ff2222", linewidth=1.5, zorder=3)
ast.text(0.022, 0.905, "STO (14,3,5)   66,59", transform=ast.transAxes, va="center", fontsize=LBL,
         color="#111111", zorder=5)
scale_label(rs, 80, "80", "#ff1a1a")
scale_label(rs, 50, "50", "#111111")
scale_label(rs, 20, "20", "#1a8c1a")
value_box(rs, 66.596, "66,596", "#000000")

# ACD
aa, ra = panel(2021, 2268, (7.914, 14.979))
aa.axhline(11.413, color="#cfcfcf", lw=2, zorder=0.6)
draw_line(aa, acd_t, acd_v, color="#262626", linewidth=1.6, zorder=3)
aa.text(0.022, 0.905, "ACD   14.919.195,99", transform=aa.transAxes, va="center", fontsize=LBL,
        color="#111111")
value_box(ra, 14.919, "14.919.196", "#000000")
scale_label(ra, 11.413, "11.413.230", "#111111", bold=False, size=16)
scale_label(ra, 7.907, "7.907.270", "#1a8c1a", bold=False, size=16)

# ---------------- chrome: title, legend, separators, border ----------------
fig.add_artist(Rectangle((0, 1 - 44 / H), 1, 44 / H, transform=fig.transFigure,
                         fc="#fbfbfb", ec="none", zorder=10))
fig.text(10 / W, 1 - 24 / H, TITLE, fontsize=20.5, fontweight="bold", va="center", ha="left",
         color="#111111", zorder=12)
for (name, col), x in zip(legend_items, legend_x):
    fig.text(x / W, 1 - 65 / H, name, fontsize=LBL, color=col, va="center", ha="left", zorder=12)
for yy in (1270, 1520, 1769.5, 2019):
    fig.add_artist(Line2D([4 / W, 1891 / W], [1 - yy / H, 1 - yy / H], color="#a9a9a9", lw=2.8,
                          transform=fig.transFigure, zorder=15))
fig.add_artist(Rectangle((4 / W, 1 - 2271 / H), 1887 / W, 2267 / H, transform=fig.transFigure,
                         fill=False, ec="#a9a9a9", lw=2.5, zorder=20))

fig.savefig("out.png", dpi=100, facecolor="white")
